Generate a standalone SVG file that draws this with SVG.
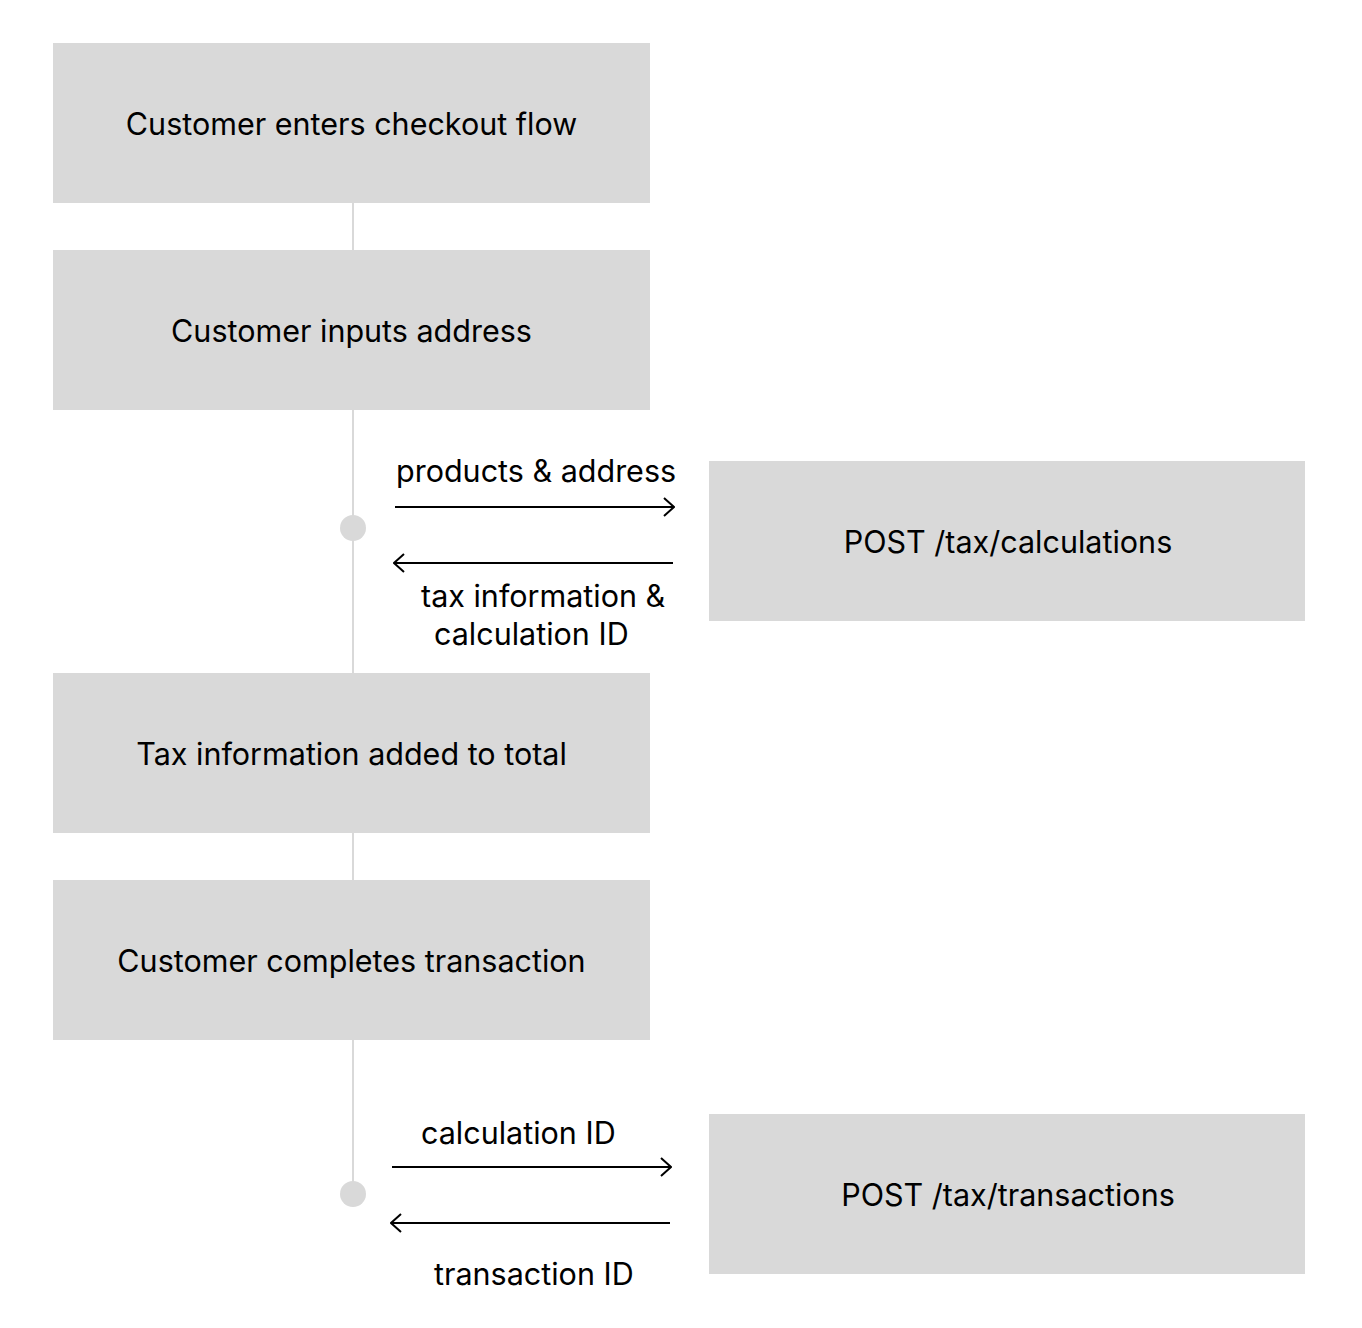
<svg xmlns="http://www.w3.org/2000/svg" width="1362" height="1328" viewBox="0 0 1362 1328">
<style>
.box{fill:#d9d9d9}
.t{font-family:Inter,"Noto Sans","Liberation Sans",sans-serif;font-size:30.5px;fill:#000}
.c{text-anchor:middle}
.lane{stroke:#d9d9d9;stroke-width:2;fill:none}
.arr{stroke:#000;stroke-width:2;fill:none}
</style>
<defs>
<marker id="ah" viewBox="0 0 12 20" markerWidth="12" markerHeight="20" refX="11" refY="10" orient="auto" markerUnits="userSpaceOnUse">
<path d="M1 1 L11 10 L1 19" fill="none" stroke="#000" stroke-width="2"/>
</marker>
</defs>
<rect width="1362" height="1328" fill="#fff"/>
<g id="connectors">
<line class="lane" x1="353" y1="203" x2="353" y2="250"/>
<line class="lane" x1="353" y1="410" x2="353" y2="673"/>
<line class="lane" x1="353" y1="833" x2="353" y2="880"/>
<line class="lane" x1="353" y1="1040" x2="353" y2="1194"/>
<circle cx="353" cy="528" r="13" fill="#d9d9d9"/>
<circle cx="353" cy="1194" r="13" fill="#d9d9d9"/>
<line class="arr" x1="395" y1="507" x2="674" y2="507" marker-end="url(#ah)"/>
<line class="arr" x1="673" y1="563" x2="394" y2="563" marker-end="url(#ah)"/>
<line class="arr" x1="392" y1="1167" x2="671" y2="1167" marker-end="url(#ah)"/>
<line class="arr" x1="670" y1="1223" x2="391" y2="1223" marker-end="url(#ah)"/>
<text class="t" x="396" y="482">products &amp; address</text>
<text class="t" x="421" y="607">tax information &amp;</text>
<text class="t" x="434" y="645">calculation ID</text>
<text class="t" x="421" y="1144">calculation ID</text>
<text class="t" x="434" y="1285">transaction ID</text>
</g>
<g id="n1"><rect class="box" x="53" y="43" width="597" height="160"/><text class="t c" x="351.5" y="135">Customer enters checkout flow</text></g>
<g id="n2"><rect class="box" x="53" y="250" width="597" height="160"/><text class="t c" x="351.5" y="342">Customer inputs address</text></g>
<g id="n3"><rect class="box" x="53" y="673" width="597" height="160"/><text class="t c" x="351.5" y="765">Tax information added to total</text></g>
<g id="n4"><rect class="box" x="53" y="880" width="597" height="160"/><text class="t c" x="351.5" y="972">Customer completes transaction</text></g>
<g id="n5"><rect class="box" x="709" y="461" width="596" height="160"/><text class="t c" x="1008" y="553">POST /tax/calculations</text></g>
<g id="n6"><rect class="box" x="709" y="1114" width="596" height="160"/><text class="t c" x="1008" y="1206">POST /tax/transactions</text></g>
</svg>
